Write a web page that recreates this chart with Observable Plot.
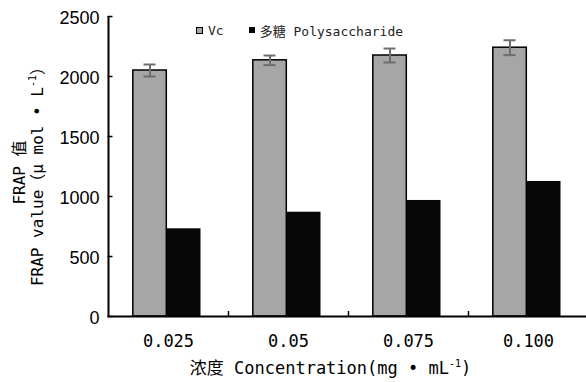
<!DOCTYPE html>
<html>
<head>
<meta charset="utf-8">
<script src="https://cdn.jsdelivr.net/npm/d3@7"></script>
<script src="https://cdn.jsdelivr.net/npm/@observablehq/plot@0.6"></script>
<style>
  html, body { margin: 0; padding: 0; background: #fff; }
  #wrap { position: relative; width: 586px; height: 382px; }
  #legend {
    position: absolute; top: 22px; left: 196px; height: 16px;
    display: flex; align-items: center;
    font-family: 'DejaVu Sans Mono', 'Noto Sans CJK SC', monospace;
    font-size: 13px; color: #222; white-space: nowrap;
  }
  #legend .sw { display: inline-block; box-sizing: border-box; }
  #legend .vc { width: 7px; height: 7px; background: #a6a6a6; border: 1.5px solid #000; margin-right: 5px; }
  #legend .poly { width: 6px; height: 6px; background: #070707; margin-left: 25px; margin-right: 5px; }
</style>
</head>
<body>
<div id="wrap">
  <div id="legend"></div>
</div>
<script>
// FRAP antioxidant capacity: Vc vs. polysaccharide at four concentrations
const concentrations = ["0.025", "0.05", "0.075", "0.100"];
const vcValues = [2050, 2135, 2175, 2240];
const vcErrors = [50, 40, 58, 62];
const polyValues = [731, 869, 967, 1125];
const yTicks = [0, 500, 1000, 1500, 2000, 2500];
const seriesNames = ["Vc", "多糖 Polysaccharide"];
const xTitle = "浓度 Concentration(mg • mL⁻¹)";
const yTitle = "FRAP 值\nFRAP value（μ mol • L⁻¹）";

const vcRows = concentrations.map((c, i) => ({conc: c, value: vcValues[i], err: vcErrors[i]}));
const polyRows = concentrations.map((c, i) => ({conc: c, value: polyValues[i]}));

const W = 586, H = 382;
const mL = 107.5, mT = 16, mB = 66;
const xRange = [mL, mL + 480];
const step = (xRange[1] - xRange[0]) / concentrations.length;

const mono = "'DejaVu Sans Mono', 'Noto Sans CJK SC', monospace";
const sans = "'Liberation Sans', Arial, 'Noto Sans CJK SC', sans-serif";
const errColor = "#6e6e6e";

const chart = Plot.plot({
  width: W,
  height: H,
  marginLeft: mL,
  marginRight: 0,
  marginTop: mT,
  marginBottom: mB,
  style: {fontFamily: sans, fontSize: "18px", color: "#000", background: "#fff", overflow: "visible"},
  x: {domain: concentrations, range: xRange, paddingInner: 0, paddingOuter: 0},
  y: {domain: [0, 2500]},
  marks: [
    // grouped bars
    Plot.barY(vcRows, {x: "conc", y: "value", fill: "#a6a6a6", stroke: "#000", strokeWidth: 1.5,
      insetLeft: 24.8, insetRight: 61.7}),
    Plot.barY(polyRows, {x: "conc", y: "value", fill: "#070707", insetLeft: 58.3, insetRight: 27.5}),
    // error bars on Vc
    Plot.ruleX(vcRows, {x: "conc", y1: d => d.value - d.err, y2: d => d.value + d.err,
      dx: -18.5, stroke: errColor, strokeWidth: 2}),
    Plot.tickY(vcRows, {x: "conc", y: d => d.value + d.err, insetLeft: 35.5, insetRight: 72.5,
      stroke: errColor, strokeWidth: 2}),
    Plot.tickY(vcRows, {x: "conc", y: d => d.value - d.err, insetLeft: 35.5, insetRight: 72.5,
      stroke: errColor, strokeWidth: 2}),
    // axis lines
    Plot.ruleY([0], {stroke: "#000", strokeWidth: 2}),
    Plot.ruleX([concentrations[0]], {dx: -step / 2, y1: 0, y2: 2500, stroke: "#000", strokeWidth: 2}),
    // inward ticks
    Plot.ruleY(yTicks, {insetRight: W - mL - 5, stroke: "#000", strokeWidth: 1.5}),
    Plot.ruleX(concentrations.slice(0, -1), {dx: step / 2, y1: 0, y2: 0, insetBottom: 5,
      stroke: "#000", strokeWidth: 1.5}),
    // tick labels
    Plot.axisY(yTicks, {tickSize: 0, tickPadding: 8.5, fontSize: 18, fontFamily: sans, dy: 2,
      tickFormat: d => String(d), label: null}),
    Plot.axisX({tickSize: 0, tickPadding: 18, fontFamily: mono, fontSize: 17, label: null}),
    // axis titles
    Plot.text([xTitle], {frameAnchor: "bottom", dx: -16.75, dy: 52, fontFamily: mono, fontSize: 17,
      textAnchor: "middle", lineAnchor: "middle"}),
    Plot.text([yTitle], {frameAnchor: "left", rotate: -90, dx: -79.5, dy: 6, fontFamily: mono,
      fontSize: 16, textAnchor: "middle", lineAnchor: "middle", lineHeight: 1.12})
  ]
});

// set the "⁻¹" exponents as small raised text
d3.select(chart).selectAll("text, tspan").each(function () {
  if (this.childElementCount > 0) return;
  const s = this.textContent;
  const k = s.indexOf("⁻¹");
  if (k < 0) return;
  const size = parseFloat(getComputedStyle(this).fontSize) || 16;
  const el = d3.select(this).text(s.slice(0, k));
  el.append("tspan").attr("font-size", Math.round(size * 0.62)).attr("dy", -size * 0.42).text("-1");
  el.append("tspan").attr("dy", size * 0.42).text(s.slice(k + 2));
});

document.getElementById("wrap").prepend(chart);

// legend drawn over the plot area
const legend = d3.select("#legend");
legend.append("span").attr("class", "sw vc");
legend.append("span").text(seriesNames[0]);
legend.append("span").attr("class", "sw poly");
legend.append("span").text(seriesNames[1]);
</script>
</body>
</html>
